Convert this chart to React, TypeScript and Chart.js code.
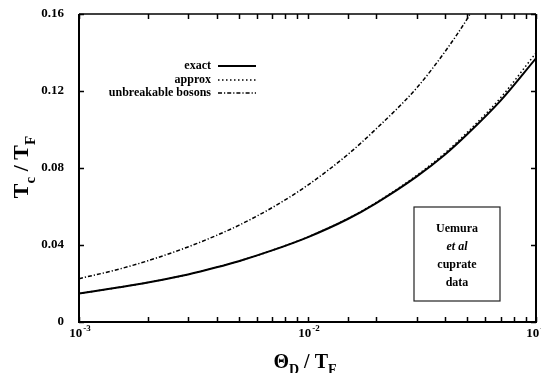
import React, { useEffect, useRef } from "react";
import { Chart, registerables } from "chart.js";

Chart.register(...registerables);

// Θ_D / T_F values (log axis)
const thetaD = [0.001, 0.0015, 0.002, 0.003, 0.004, 0.005, 0.007, 0.01, 0.015, 0.02, 0.03, 0.04, 0.05, 0.07, 0.1];
// T_c / T_F : exact
const exactTc = [0.0148, 0.018, 0.0205, 0.0247, 0.0284, 0.0316, 0.0372, 0.044, 0.0535, 0.0618, 0.0755, 0.087, 0.0975, 0.115, 0.137];
// T_c / T_F : approx
const approxTc = [0.0148, 0.018, 0.0205, 0.0247, 0.0284, 0.0316, 0.0372, 0.0441, 0.0537, 0.0621, 0.0761, 0.0878, 0.0985, 0.1165, 0.1398];
// unbreakable bosons
const bosonTheta = [0.001, 0.0015, 0.002, 0.003, 0.004, 0.005, 0.007, 0.01, 0.015, 0.02, 0.03, 0.04, 0.05, 0.052];
const bosonTc = [0.0225, 0.0275, 0.0318, 0.039, 0.045, 0.0502, 0.0594, 0.071, 0.087, 0.1004, 0.1215, 0.1405, 0.1575, 0.161];

const yTicks = [0, 0.04, 0.08, 0.12, 0.16];
const decadeExponents: Record<string, string> = { "0.001": "-3", "0.01": "-2", "0.1": "-1" };
const seriesNames = ["exact", "approx", "unbreakable bosons"];
const boxLines = ["Uemura", "et al", "cuprate", "data"];

const SERIF = '"Liberation Serif", "DejaVu Serif", serif';

const dashes: number[][] = [[], [1.5, 2.5], [4, 2, 1.2, 2]];
const widths = [2, 1.5, 1.5];

function drawPieces(ctx: CanvasRenderingContext2D, pieces: { t: string; sub?: boolean }[], big: number, small: number, cx: number, baseline: number) {
  const fontFor = (p: { sub?: boolean }) => `bold ${p.sub ? small : big}px ${SERIF}`;
  let total = 0;
  for (const p of pieces) {
    ctx.font = fontFor(p);
    total += ctx.measureText(p.t).width;
  }
  let x = cx - total / 2;
  ctx.textAlign = "left";
  ctx.textBaseline = "alphabetic";
  for (const p of pieces) {
    ctx.font = fontFor(p);
    ctx.fillText(p.t, x, baseline + (p.sub ? big * 0.3 : 0));
    x += ctx.measureText(p.t).width;
  }
}

const decorPlugin = {
  id: "decor",
  afterDraw(chart: any) {
    const ctx: CanvasRenderingContext2D = chart.ctx;
    const { left, right, top, bottom } = chart.chartArea;
    const xs = chart.scales.x;
    const ys = chart.scales.y;
    ctx.save();
    ctx.strokeStyle = "#000";
    ctx.fillStyle = "#000";
    ctx.setLineDash([]);
    // frame
    ctx.lineWidth = 2;
    ctx.beginPath();
    ctx.moveTo(left, top);
    ctx.lineTo(left, bottom);
    ctx.lineTo(right, bottom);
    ctx.lineTo(right, top);
    ctx.stroke();
    ctx.lineWidth = 1.5;
    ctx.beginPath();
    ctx.moveTo(left, top);
    ctx.lineTo(right, top);
    ctx.stroke();
    // x ticks (inward) and decade labels
    ctx.lineWidth = 1.5;
    for (const t of xs.ticks) {
      const px = Math.round(xs.getPixelForValue(t.value)) + 0.5;
      const exp = decadeExponents[String(t.value)];
      const len = 5;
      ctx.beginPath();
      ctx.moveTo(px, bottom);
      ctx.lineTo(px, bottom - len);
      ctx.moveTo(px, top);
      ctx.lineTo(px, top + len);
      ctx.stroke();
      if (exp) {
        ctx.textBaseline = "alphabetic";
        ctx.textAlign = "left";
        ctx.font = `bold 13px ${SERIF}`;
        const w1 = ctx.measureText("10").width;
        ctx.font = `bold 9px ${SERIF}`;
        const w2 = ctx.measureText(exp).width;
        const x0 = px - (w1 + w2) / 2;
        ctx.font = `bold 13px ${SERIF}`;
        ctx.fillText("10", x0, 337);
        ctx.font = `bold 9px ${SERIF}`;
        ctx.fillText(exp, x0 + w1 + 1, 331);
      }
    }
    // y ticks (inward)
    for (const v of yTicks) {
      const py = Math.round(ys.getPixelForValue(v)) + 0.5;
      ctx.beginPath();
      ctx.moveTo(left, py);
      ctx.lineTo(left + 5, py);
      ctx.moveTo(right, py);
      ctx.lineTo(right - 5, py);
      ctx.stroke();
    }
    // legend
    const rows = [66, 80, 93];
    ctx.font = `bold 12px ${SERIF}`;
    ctx.textAlign = "right";
    ctx.textBaseline = "middle";
    seriesNames.forEach((name, i) => {
      ctx.fillText(name, 211, rows[i]);
      ctx.save();
      ctx.lineWidth = widths[i];
      ctx.setLineDash(dashes[i]);
      ctx.beginPath();
      ctx.moveTo(218, rows[i]);
      ctx.lineTo(256, rows[i]);
      ctx.stroke();
      ctx.restore();
    });
    // data box
    ctx.lineWidth = 1.2;
    ctx.strokeStyle = "#222";
    ctx.strokeRect(414, 207, 86, 94);
    ctx.textAlign = "center";
    ctx.textBaseline = "middle";
    const boxY = [229, 247, 265, 283];
    boxLines.forEach((ln, i) => {
      ctx.font = `${i === 1 ? "italic " : ""}bold 12px ${SERIF}`;
      ctx.fillText(ln, 457, boxY[i]);
    });
    // x title
    drawPieces(ctx, [{ t: "Θ" }, { t: "D", sub: true }, { t: " / " }, { t: "T" }, { t: "F", sub: true }], 20, 14, 305, 368);
    // y title
    ctx.save();
    ctx.translate(0, 167);
    ctx.rotate(-Math.PI / 2);
    drawPieces(ctx, [{ t: "T" }, { t: "c", sub: true }, { t: " / " }, { t: "T" }, { t: "F", sub: true }], 22, 15, 0, 28);
    ctx.restore();
    ctx.restore();
  },
};

export default function App() {
  const ref = useRef<HTMLCanvasElement | null>(null);
  useEffect(() => {
    if (!ref.current) return;
    const chart = new Chart(ref.current, {
      type: "line",
      data: {
        datasets: [
          {
            label: seriesNames[0],
            data: thetaD.map((x, i) => ({ x, y: exactTc[i] })),
            borderColor: "#000",
            borderWidth: widths[0],
            borderDash: dashes[0],
            pointRadius: 0,
            cubicInterpolationMode: "monotone",
          },
          {
            label: seriesNames[1],
            data: thetaD.map((x, i) => ({ x, y: approxTc[i] })),
            borderColor: "#000",
            borderWidth: widths[1],
            borderDash: dashes[1],
            pointRadius: 0,
            cubicInterpolationMode: "monotone",
          },
          {
            label: seriesNames[2],
            data: bosonTheta.map((x, i) => ({ x, y: bosonTc[i] })),
            borderColor: "#000",
            borderWidth: widths[2],
            borderDash: dashes[2],
            pointRadius: 0,
            cubicInterpolationMode: "monotone",
          },
        ],
      },
      options: {
        responsive: false,
        animation: false,
        devicePixelRatio: 1,
        layout: { padding: { top: 14, right: 5, left: 0, bottom: 0 } },
        plugins: { legend: { display: false }, tooltip: { enabled: false } },
        scales: {
          x: {
            type: "logarithmic",
            min: 0.001,
            max: 0.1,
            grid: { display: false },
            border: { display: false },
            ticks: {
              autoSkip: false,
              maxRotation: 0,
              padding: 3,
              color: "#000",
              font: { family: SERIF, size: 13, weight: "bold" },
              callback: () => "",
            },
            afterFit: (s: any) => {
              s.height = 51;
              s.paddingLeft = 0;
              s.paddingRight = 0;
            },
          },
          y: {
            type: "linear",
            min: 0,
            max: 0.16,
            grid: { display: false },
            border: { display: false },
            ticks: {
              stepSize: 0.04,
              padding: 7,
              color: "#000",
              font: { family: SERIF, size: 13, weight: "bold" },
              callback: (v: any) => (v === 0 ? "0" : Number(v).toFixed(2)),
            },
            afterFit: (s: any) => {
              s.width = 79;
              s.paddingTop = 0;
              s.paddingBottom = 0;
            },
          },
        },
      },
      plugins: [decorPlugin],
    } as any);
    return () => chart.destroy();
  }, []);
  return (
    <div style={{ position: "fixed", left: 0, top: 0, width: 541, height: 373, background: "#fff" }}>
      <canvas ref={ref} width={541} height={373} style={{ display: "block" }} />
    </div>
  );
}
